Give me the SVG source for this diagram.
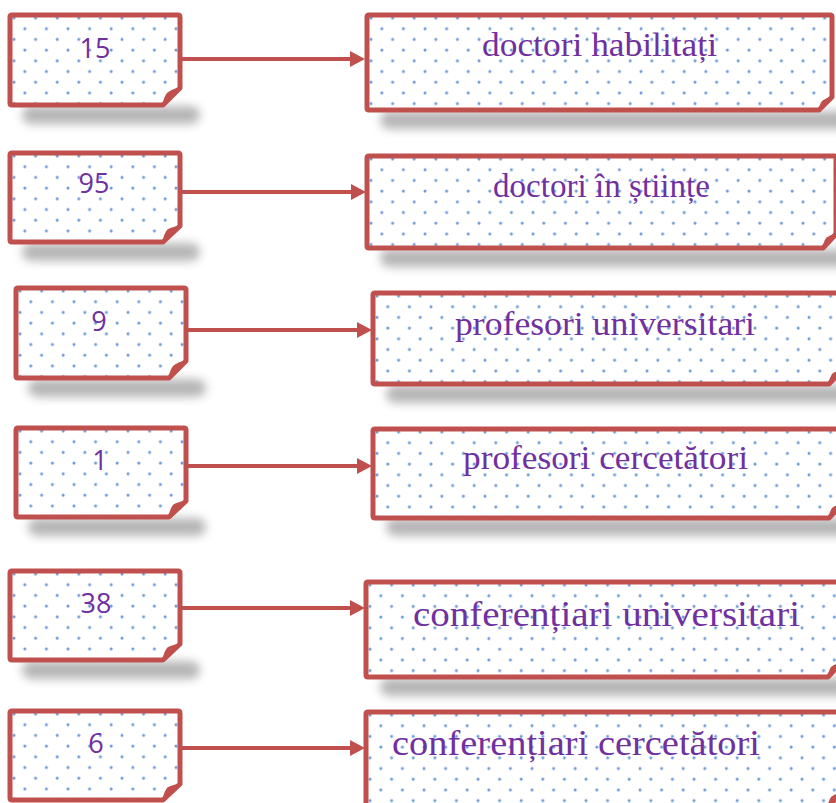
<svg xmlns="http://www.w3.org/2000/svg" width="836" height="803" viewBox="0 0 836 803">
<style>
.box{fill:url(#dots);stroke:#c0504d;stroke-width:5;stroke-linejoin:round}
.curl{fill:#c0504d;stroke:#c0504d;stroke-width:1.5;stroke-linejoin:round}
.sh{fill:#7a7a7a;opacity:.55;filter:url(#blur)}
.num{font-family:"Open Sans","Noto Sans",sans-serif;font-size:27px;fill:#7030a0;text-anchor:middle}
.lbl{font-family:"Liberation Serif","Times New Roman",serif;fill:#7030a0}
.arr{stroke:#c0504d;stroke-width:4;fill:none;marker-end:url(#ah)}
</style>
<defs>
<pattern id="dots" patternUnits="userSpaceOnUse" width="21.6" height="21.4">
<rect width="21.6" height="21.4" fill="#fff"/>
<circle cx="4" cy="3" r="1.5" fill="#6b9ad8"/>
<circle cx="14.8" cy="13.7" r="1.5" fill="#6b9ad8"/>
</pattern>
<filter id="blur" x="-20%" y="-100%" width="140%" height="300%"><feGaussianBlur stdDeviation="5"/></filter>
<marker id="ah" markerUnits="userSpaceOnUse" markerWidth="15" markerHeight="16" refX="9" refY="8" orient="auto">
<path d="M0,0 L15,8 L0,16 Z" fill="#c0504d"/>
</marker>
</defs>

<g id="shadows">
<rect class="sh" x="22" y="106" width="178" height="18" rx="9"/>
<rect class="sh" x="22" y="243" width="178" height="18" rx="9"/>
<rect class="sh" x="28" y="379" width="178" height="18" rx="9"/>
<rect class="sh" x="28" y="518" width="178" height="18" rx="9"/>
<rect class="sh" x="22" y="661" width="178" height="18" rx="9"/>
<rect class="sh" x="380" y="111" width="470" height="18" rx="9"/>
<rect class="sh" x="380" y="249" width="470" height="18" rx="9"/>
<rect class="sh" x="386" y="385" width="470" height="18" rx="9"/>
<rect class="sh" x="386" y="518" width="470" height="18" rx="9"/>
<rect class="sh" x="380" y="678" width="470" height="18" rx="9"/>
</g>

<g id="connectors">
<line class="arr" x1="180" y1="59" x2="359" y2="59"/>
<line class="arr" x1="180" y1="192" x2="360" y2="192"/>
<line class="arr" x1="186" y1="330" x2="366" y2="330"/>
<line class="arr" x1="186" y1="466" x2="366" y2="466"/>
<line class="arr" x1="180" y1="608" x2="359" y2="608"/>
<line class="arr" x1="180" y1="748" x2="359" y2="748"/>
</g>

<g id="n15" transform="translate(10,15)">
<path class="box" d="M2,0 H168 Q170,0 170,2 V73 L153,90 H2 Q0,90 0,88 V2 Q0,0 2,0 Z"/>
<path class="curl" d="M170,73 L153,90 Q155,81 158,78 Q162,75 170,73 Z"/>
<text class="num" x="85" y="43">15</text>
</g>
<g id="n95" transform="translate(10,153)">
<path class="box" d="M2,0 H168 Q170,0 170,2 V73 L153,89 H2 Q0,89 0,87 V2 Q0,0 2,0 Z"/>
<path class="curl" d="M170,73 L153,89 Q155,80 158,77 Q162,75 170,73 Z"/>
<text class="num" x="84" y="40">95</text>
</g>
<g id="n9" transform="translate(16,288)">
<path class="box" d="M2,0 H168 Q170,0 170,2 V73 L153,90 H2 Q0,90 0,88 V2 Q0,0 2,0 Z"/>
<path class="curl" d="M170,73 L153,90 Q155,81 158,78 Q162,75 170,73 Z"/>
<text class="num" x="83" y="43">9</text>
</g>
<g id="n1" transform="translate(16,428)">
<path class="box" d="M2,0 H168 Q170,0 170,2 V73 L153,89 H2 Q0,89 0,87 V2 Q0,0 2,0 Z"/>
<path class="curl" d="M170,73 L153,89 Q155,80 158,77 Q162,75 170,73 Z"/>
<text class="num" x="84" y="42">1</text>
</g>
<g id="n38" transform="translate(10,571)">
<path class="box" d="M2,0 H168 Q170,0 170,2 V73 L153,89 H2 Q0,89 0,87 V2 Q0,0 2,0 Z"/>
<path class="curl" d="M170,73 L153,89 Q155,80 158,77 Q162,75 170,73 Z"/>
<text class="num" x="86" y="42">38</text>
</g>
<g id="n6" transform="translate(10,711)">
<path class="box" d="M2,0 H168 Q170,0 170,2 V73 L153,89 H2 Q0,89 0,87 V2 Q0,0 2,0 Z"/>
<path class="curl" d="M170,73 L153,89 Q155,80 158,77 Q162,75 170,73 Z"/>
<text class="num" x="86" y="42">6</text>
</g>

<g id="r1" transform="translate(367,15)">
<path class="box" d="M2,0 H463 Q465,0 465,2 V82 L452,95 H2 Q0,95 0,93 V2 Q0,0 2,0 Z"/>
<path class="curl" d="M465,82 L452,95 Q454,88 456,86 Q459,84 465,82 Z"/>
<text class="lbl" x="115" y="41" font-size="33" textLength="235" lengthAdjust="spacingAndGlyphs">doctori habilitați</text>
</g>
<g id="r2" transform="translate(367,156)">
<path class="box" d="M2,0 H467 Q469,0 469,2 V78 L456,92 H2 Q0,92 0,90 V2 Q0,0 2,0 Z"/>
<path class="curl" d="M469,78 L456,92 Q458,84 460,82 Q463,80 469,78 Z"/>
<text class="lbl" x="126" y="41" font-size="33" textLength="217" lengthAdjust="spacingAndGlyphs">doctori în științe</text>
</g>
<g id="r3" transform="translate(373,293)">
<path class="box" d="M2,0 H467 Q469,0 469,2 V77 L456,91 H2 Q0,91 0,89 V2 Q0,0 2,0 Z"/>
<path class="curl" d="M469,77 L456,91 Q458,83 460,81 Q463,79 469,77 Z"/>
<text class="lbl" x="82" y="42" font-size="33" textLength="300" lengthAdjust="spacingAndGlyphs">profesori universitari</text>
</g>
<g id="r4" transform="translate(373,429)">
<path class="box" d="M2,0 H467 Q469,0 469,2 V75 L456,89 H2 Q0,89 0,87 V2 Q0,0 2,0 Z"/>
<path class="curl" d="M469,75 L456,89 Q458,81 460,79 Q463,77 469,75 Z"/>
<text class="lbl" x="90" y="40" font-size="33" textLength="285" lengthAdjust="spacingAndGlyphs">profesori cercetători</text>
</g>
<g id="r5" transform="translate(366,582)">
<path class="box" d="M2,0 H473 Q475,0 475,2 V81 L462,95 H2 Q0,95 0,93 V2 Q0,0 2,0 Z"/>
<path class="curl" d="M475,81 L462,95 Q464,87 466,85 Q469,83 475,81 Z"/>
<text class="lbl" x="47" y="44" font-size="36" textLength="387" lengthAdjust="spacingAndGlyphs">conferențiari universitari</text>
</g>
<g id="r6" transform="translate(366,712)">
<path class="box" d="M2,0 H473 Q475,0 475,2 V81 L462,95 H2 Q0,95 0,93 V2 Q0,0 2,0 Z"/>
<path class="curl" d="M475,81 L462,95 Q464,87 466,85 Q469,83 475,81 Z"/>
<text class="lbl" x="26" y="43" font-size="36" textLength="368" lengthAdjust="spacingAndGlyphs">conferențiari cercetători</text>
</g>
</svg>
